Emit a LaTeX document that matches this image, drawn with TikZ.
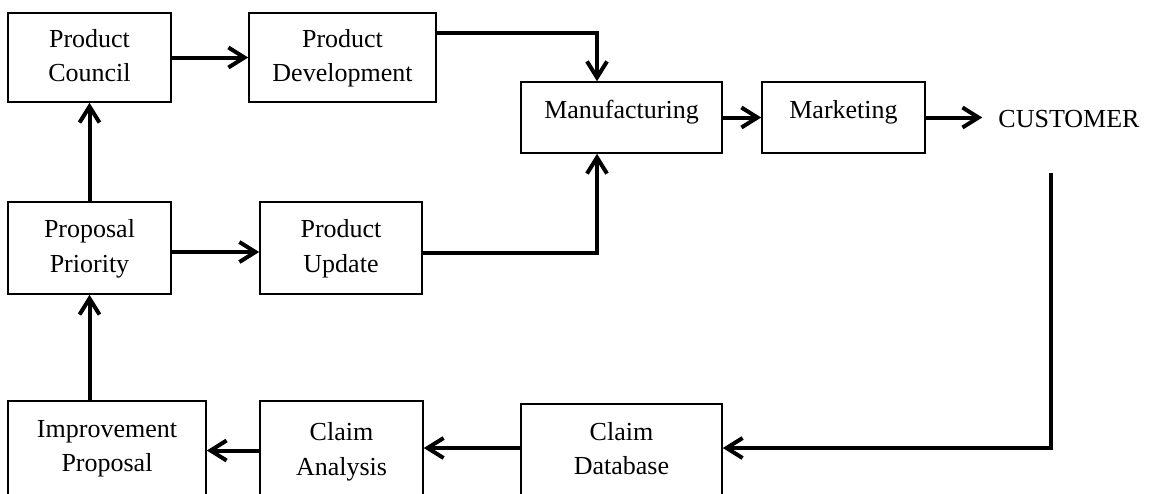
\documentclass[tikz,border=0pt]{standalone}
\usepackage{fontspec}
\setmainfont{Liberation Serif}
\usetikzlibrary{arrows.meta,calc}
% two centred lines, each with a strut so every box sets its lines alike
\newcommand{\twolines}[2]{\strut#1\\\strut#2}
\begin{document}
\begin{tikzpicture}[x=1pt,y=-1pt,
  every node/.style={font=\fontsize{26}{34.5}\selectfont},
  box/.style={draw, line width=1.6pt, rectangle, inner sep=0pt, align=center},
  onebox/.style={box, text height=18pt, text depth=17pt},
  lbl/.style={inner sep=0pt, align=center},
  flow/.style={line width=4pt, -{Straight Barb[length=16pt,width=20pt]}}
]
\useasboundingbox (0,0) rectangle (1149,493);

% top row
\node[box, minimum width=163, minimum height=89] (pc) at (89.5,57.5) {\twolines{Product}{Council}};
\node[box, minimum width=187, minimum height=89] (pd) at (342.5,57.5) {\twolines{Product}{Development}};
\node[onebox, minimum width=201, minimum height=71] (mfg) at (621.5,117.5) {Manufacturing};
\node[onebox, minimum width=163, minimum height=71] (mkt) at (843.5,117.5) {Marketing};
\node[lbl, inner xsep=16pt] (cust) at (1069,119.4) {CUSTOMER};

% middle row
\node[box, minimum width=163, minimum height=92] (pp) at (89.5,248) {\twolines{Proposal}{Priority}};
\node[box, minimum width=162, minimum height=92] (pu) at (341,248) {\twolines{Product}{Update}};

% bottom row (boxes run past the lower edge)
\node[box, minimum width=198, minimum height=99] (ip) at (107,450.5) {};
\node[lbl] (iptext) at (107,447.4) {\twolines{Improvement}{Proposal}};
\node[box, minimum width=163, minimum height=99] (ca) at (341.5,450.5) {};
\node[lbl] (catext) at (341.5,451.3) {\twolines{Claim}{Analysis}};
\node[box, minimum width=201, minimum height=96] (cdb) at (621.5,452) {};
\node[lbl] (cdbtext) at (621.5,450.4) {\twolines{Claim}{Database}};

% connectors
\draw[flow] (pc.east) -- (pd.west);
\draw[flow] (pp.north) -- (pc.south);
\draw[flow] (ip.north -| pp.south) -- (pp.south);
\draw[flow] ([yshift=-4pt]pp.east) -- ([yshift=-4pt]pu.west);
\draw[flow] ([yshift=-5pt]pu.east) -| ([xshift=-24.5pt]mfg.south);
\draw[flow] ([yshift=24.5pt]pd.east) -| ([xshift=-24.5pt]mfg.north);
\draw[flow] (mfg.east) -- (mkt.west);
\draw[flow] (mkt.east) -- (mkt.east -| cust.west);

\coordinate (fb) at (1051,173);
\coordinate (cdbin) at ([yshift=4pt]cdb.east);
\coordinate (cdbout) at ([yshift=4pt]cdb.west);
\draw[flow] (fb) |- (cdbin);
\draw[flow] (cdbout) -- (cdbout -| ca.east);
\draw[flow] (ca.west) -- (ca.west -| ip.east);
\end{tikzpicture}
\end{document}
